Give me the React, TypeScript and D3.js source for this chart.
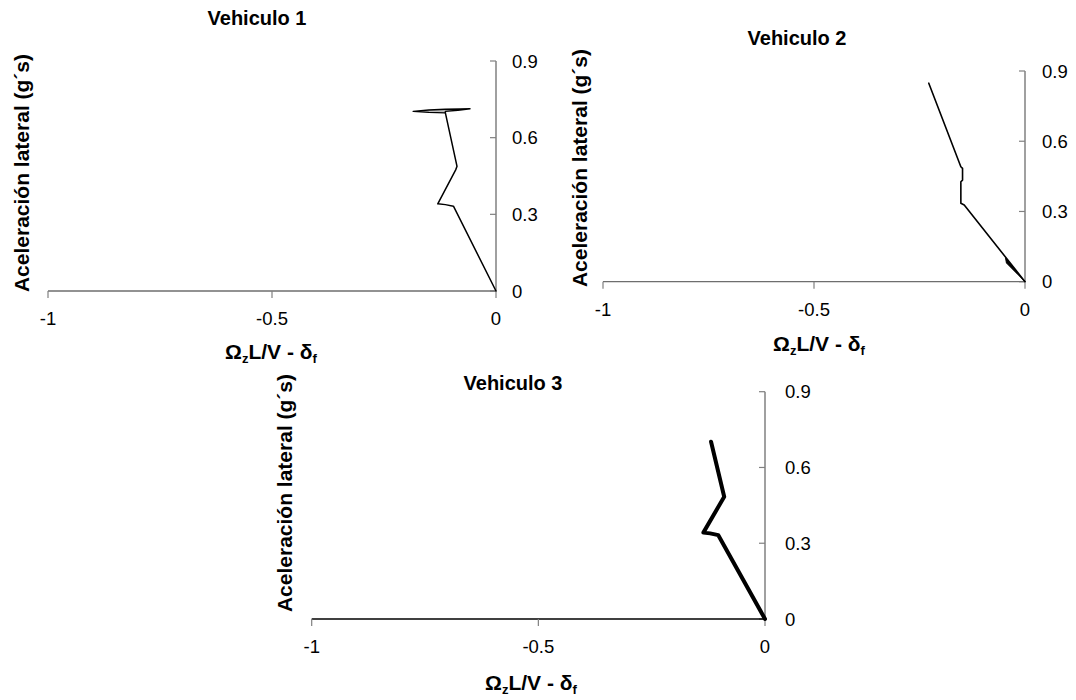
import React from "react";
import * as d3 from "d3";

// Lateral acceleration (g's) versus understeer term (Ωz·L/V − δf) for three vehicles
const xTicks = [-1, -0.5, 0];
const yTicks = [0, 0.3, 0.6, 0.9];
const xTickLabels = ["-1", "-0.5", "0"];
const yTickLabels = ["0", "0.3", "0.6", "0.9"];

const titles = ["Vehiculo 1", "Vehiculo 2", "Vehiculo 3"];
const yTitle = "Aceleración lateral (g´s)";

// Vehicle 1 trajectory
const v1Path: [number, number][] = [
  [0, 0],
  [-0.095, 0.332],
  [-0.113, 0.338],
  [-0.13, 0.341],
  [-0.09, 0.474],
  [-0.087, 0.488],
  [-0.113, 0.697],
];
// Vehicle 1 oscillation at the top of the run
const v1Loop: [number, number][] = [
  [-0.113, 0.697],
  [-0.15, 0.699],
  [-0.185, 0.703],
  [-0.15, 0.708],
  [-0.113, 0.711],
  [-0.08, 0.712],
  [-0.058, 0.713],
  [-0.085, 0.707],
  [-0.113, 0.703],
];

// Vehicle 2 trajectory
const v2Path: [number, number][] = [
  [-0.228, 0.848],
  [-0.152, 0.491],
  [-0.148, 0.484],
  [-0.148, 0.434],
  [-0.152, 0.427],
  [-0.152, 0.335],
  [-0.144, 0.328],
  [0, 0],
];
// Vehicle 2 dense cluster of points near the origin
const v2Fan: [number, number][] = [
  [0, 0],
  [-0.046, 0.1],
  [-0.044, 0.08],
];

// Vehicle 3 trajectory
const v3Path: [number, number][] = [
  [0, 0],
  [-0.103, 0.332],
  [-0.121, 0.339],
  [-0.136, 0.342],
  [-0.09, 0.484],
  [-0.119, 0.702],
];

type PanelProps = {
  title: string;
  x0: number;
  x1: number;
  yBottom: number;
  yTop: number;
  titleX: number;
  titleY: number;
  yLabelX: number;
  yLabelY: number;
  xLabelX: number;
  xLabelY: number;
  tickLabelGap: number;
  xAxisColor: string;
  lineWidth: number;
  path: [number, number][];
  loop?: [number, number][];
  fan?: [number, number][];
};

const FONT = "Arial, 'Liberation Sans', sans-serif";

function Panel(p: PanelProps) {
  const x = d3.scaleLinear().domain([-1, 0]).range([p.x0, p.x1]);
  const y = d3.scaleLinear().domain([0, 0.9]).range([p.yBottom, p.yTop]);
  const line = d3
    .line<[number, number]>()
    .x((d) => x(d[0]))
    .y((d) => y(d[1]));
  const axisGrey = "#808080";
  return (
    <g fontFamily={FONT}>
      <text
        x={p.titleX}
        y={p.titleY}
        textAnchor="middle"
        fontWeight="bold"
        fontSize={20}
      >
        {p.title}
      </text>
      {/* y axis on the right at x = 0 */}
      <line
        x1={x(0)}
        x2={x(0)}
        y1={y(0.9)}
        y2={y(0)}
        stroke={axisGrey}
        strokeWidth={1.5}
      />
      {yTicks.map((t, i) => (
        <g key={"yt" + i}>
          <line
            x1={x(0) - 6}
            x2={x(0)}
            y1={y(t)}
            y2={y(t)}
            stroke={axisGrey}
            strokeWidth={1.2}
          />
          <text
            x={x(0) + p.tickLabelGap}
            y={y(t) + 6.6}
            fontSize={18.5}
            fill="#000"
          >
            {yTickLabels[i]}
          </text>
        </g>
      ))}
      {/* x axis */}
      <line
        x1={x(-1)}
        x2={x(0)}
        y1={y(0)}
        y2={y(0)}
        stroke={p.xAxisColor}
        strokeWidth={1.3}
      />
      {xTicks.map((t, i) => (
        <g key={"xt" + i}>
          <line
            x1={x(t)}
            x2={x(t)}
            y1={y(0)}
            y2={y(0) + 7}
            stroke={axisGrey}
            strokeWidth={1.2}
          />
          <text
            x={x(t)}
            y={y(0) + 34}
            textAnchor="middle"
            fontSize={18.5}
          >
            {xTickLabels[i]}
          </text>
        </g>
      ))}
      {p.fan && (
        <path d={line(p.fan)! + "Z"} fill="#000" stroke="#000" strokeWidth={1} />
      )}
      <path
        d={line(p.path)!}
        fill="none"
        stroke="#000"
        strokeWidth={p.lineWidth}
        strokeLinejoin="round"
        strokeLinecap="round"
      />
      {p.loop && (
        <path
          d={line(p.loop)! + "Z"}
          fill="#bdbdbd"
          stroke="#000"
          strokeWidth={1.4}
          strokeLinejoin="round"
        />
      )}
      <text
        transform={`translate(${p.yLabelX},${p.yLabelY}) rotate(-90)`}
        textAnchor="middle"
        fontWeight="bold"
        fontSize={21}
      >
        {yTitle}
      </text>
      <text
        x={p.xLabelX}
        y={p.xLabelY}
        textAnchor="middle"
        fontWeight="bold"
        fontSize={21}
      >
        Ω<tspan fontSize={13} dy={4}>z</tspan>
        <tspan dy={-4}>L/V - δ</tspan>
        <tspan fontSize={13} dy={4}>f</tspan>
      </text>
    </g>
  );
}

export default function App() {
  return (
    <svg
      width={1076}
      height={700}
      style={{ position: "absolute", left: 0, top: 0, background: "#fff" }}
    >
      <rect width={1076} height={700} fill="#fff" />
      <Panel
        title={titles[0]}
        x0={48}
        x1={496}
        yBottom={291}
        yTop={61}
        titleX={257}
        titleY={25}
        yLabelX={29}
        yLabelY={173}
        xLabelX={271}
        xLabelY={359}
        tickLabelGap={16}
        xAxisColor="#6e6e6e"
        lineWidth={1.5}
        path={v1Path}
        loop={v1Loop}
      />
      <Panel
        title={titles[1]}
        x0={603}
        x1={1025}
        yBottom={281.7}
        yTop={71}
        titleX={797}
        titleY={45}
        yLabelX={587}
        yLabelY={168}
        xLabelX={819}
        xLabelY={351}
        tickLabelGap={17}
        xAxisColor="#6e6e6e"
        lineWidth={1.6}
        path={v2Path}
        fan={v2Fan}
      />
      <Panel
        title={titles[2]}
        x0={311.7}
        x1={765}
        yBottom={619}
        yTop={391.7}
        titleX={513}
        titleY={390}
        yLabelX={292}
        yLabelY={493}
        xLabelX={531}
        xLabelY={690}
        tickLabelGap={20}
        xAxisColor="#000"
        lineWidth={4}
        path={v3Path}
      />
    </svg>
  );
}
